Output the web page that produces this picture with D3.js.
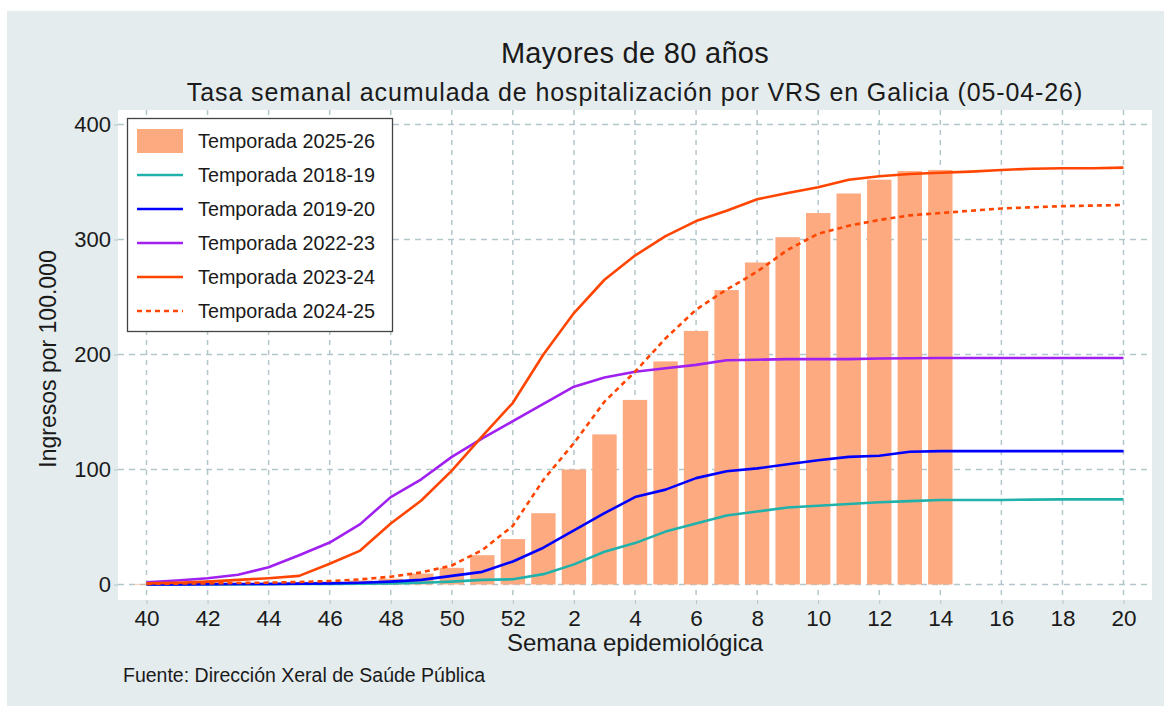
<!DOCTYPE html>
<html><head><meta charset="utf-8">
<script src="https://cdn.jsdelivr.net/npm/d3@7"></script>
<style>body{margin:0;background:#fff;}svg{display:block;font-family:"Liberation Sans",Arial,sans-serif;}</style>
</head><body>
<svg id="c" width="1164" height="706"></svg>
<script>
const weeks = ["40","41","42","43","44","45","46","47","48","49","50","51","52","1","2","3","4","5","6","7","8","9","10","11","12","13","14","15","16","17","18","19","20"];
const tickLabels = ["40","42","44","46","48","50","52","2","4","6","8","10","12","14","16","18","20"];
const yTicks = [0,100,200,300,400];

const t2025_26 = [0.5,0.5,1,1,1.5,2,2.5,3.5,5,9.5,14.5,25.5,39.5,62,100,130.5,160.5,194,220.5,256,280,302,323,340,352,359.5,360.5];
const t2018_19 = [0,0,0,0,0.3,0.5,0.5,0.8,1,1.5,2.5,4,4.5,9,17.5,28.5,36,46,53,60,63.5,67,68.5,70,71.5,72.5,73.5,73.5,73.5,73.8,74,74,74];
const t2019_20 = [0,0,0.3,0.5,0.5,0.8,1,1.5,2.5,4,7.5,11,20,32,47,62,76,82.5,92.5,98.5,101,104.5,108,111,112,115.5,116,116,116,116,116,116,116];
const t2022_23 = [2,3.5,5.5,8.5,15,25.5,36.5,52.5,76,91.5,111,127,142,157,172,180,185,188,191,195,195.5,196,196,196,196.5,196.8,197,197,197,197,197,197,197];
const t2023_24 = [1,1.5,2.5,4,5.5,7.5,18,29.5,53,73,99,129,158,200,236,265,286,303,316,325,335,340.5,345.5,352,355,357,358,359,360.5,361.5,362,362,362.5];
const t2024_25 = [0.5,0.8,1,1.3,1.6,2.2,3,4.5,6.8,10.5,16.5,30,51,91,123,159,185,214,239,256.5,272,291,305,312,317,321,323,325,327,328,329,329.5,330];

const series = [
  {name:"Temporada 2018-19", values:t2018_19, color:"#20b2aa", dash:null},
  {name:"Temporada 2019-20", values:t2019_20, color:"#0000ff", dash:null},
  {name:"Temporada 2022-23", values:t2022_23, color:"#a020f0", dash:null},
  {name:"Temporada 2023-24", values:t2023_24, color:"#ff4500", dash:null},
  {name:"Temporada 2024-25", values:t2024_25, color:"#ff4500", dash:"5,4"}
];
const barColor = "#fdaa80";
const textColor = "#1a1a1a";

const svg = d3.select("#c");
const W = 1164, H = 706;
const plot = {x0:118, x1:1152, y0:110, y1:600};

svg.append("rect").attr("x",7).attr("y",11).attr("width",W-7).attr("height",H-11).attr("fill","#e4ecee");
svg.append("rect").attr("x",plot.x0).attr("y",plot.y0).attr("width",plot.x1-plot.x0).attr("height",plot.y1-plot.y0).attr("fill","#fff");

const x = d3.scalePoint().domain(weeks).range([146.5,1123.5]);
const y = d3.scaleLinear().domain([0,400]).range([584.5,124.5]);
const step = x.step();

// grid
const g = svg.append("g");
g.selectAll("line.vg").data(tickLabels).join("line")
  .attr("x1",d=>x(d)).attr("x2",d=>x(d)).attr("y1",plot.y0).attr("y2",plot.y1)
  .attr("stroke","#b3c6cc").attr("stroke-width",1.5).attr("stroke-dasharray","5,5");
g.selectAll("line.hg").data(yTicks).join("line")
  .attr("x1",plot.x0).attr("x2",plot.x1).attr("y1",d=>y(d)).attr("y2",d=>y(d))
  .attr("stroke","#b3c6cc").attr("stroke-width",1.5).attr("stroke-dasharray","6,5");

// axes
const xAxis = d3.axisBottom(x).tickValues(tickLabels).tickSize(4).tickPadding(6);
const xa = svg.append("g").attr("transform",`translate(0,${plot.y1})`).call(xAxis);
xa.select(".domain").remove();
xa.selectAll(".tick line").attr("stroke","#b3c6cc");
xa.selectAll("text").attr("font-size",22.5).attr("fill",textColor).attr("font-family","Liberation Sans, Arial, sans-serif");

const yAxis = d3.axisLeft(y).tickValues(yTicks).tickSize(4).tickPadding(3);
const ya = svg.append("g").attr("transform",`translate(${plot.x0},0)`).call(yAxis);
ya.select(".domain").remove();
ya.selectAll(".tick line").attr("stroke","#b3c6cc");
ya.selectAll("text").attr("font-size",22).attr("fill",textColor).attr("font-family","Liberation Sans, Arial, sans-serif");

// bars
const bw = step*0.8;
svg.append("g").selectAll("rect").data(t2025_26).join("rect")
  .attr("x",(d,i)=>x(weeks[i])-bw/2).attr("width",bw)
  .attr("y",d=>y(d)).attr("height",d=>y(0)-y(d))
  .attr("fill",barColor);

// lines
const line = d3.line().x((d,i)=>x(weeks[i])).y(d=>y(d));
series.forEach(s=>{
  svg.append("path").datum(s.values).attr("d",line)
    .attr("fill","none").attr("stroke",s.color).attr("stroke-width",2.6)
    .attr("stroke-linejoin","round")
    .attr("stroke-dasharray",s.dash);
});

// titles
svg.append("text").attr("x",635).attr("y",63).attr("text-anchor","middle").attr("font-size",29).attr("letter-spacing",0.3).attr("fill",textColor).text("Mayores de 80 años");
svg.append("text").attr("x",635).attr("y",101).attr("text-anchor","middle").attr("font-size",25).attr("letter-spacing",0.9).attr("fill",textColor).text("Tasa semanal acumulada de hospitalización por VRS en Galicia (05-04-26)");
svg.append("text").attr("x",635).attr("y",651).attr("text-anchor","middle").attr("font-size",24).attr("fill",textColor).text("Semana epidemiológica");
svg.append("text").attr("transform","translate(56,359) rotate(-90)").attr("text-anchor","middle").attr("font-size",23).attr("fill",textColor).text("Ingresos por 100.000");
svg.append("text").attr("x",123).attr("y",682).attr("font-size",19.5).attr("fill",textColor).text("Fuente: Dirección Xeral de Saúde Pública");

// legend
const lg = svg.append("g");
lg.append("rect").attr("x",127.5).attr("y",118.5).attr("width",265).attr("height",213).attr("fill","#fff").attr("stroke","#444").attr("stroke-width",1.3);
const rowY = [141,175,209,243,277,311];
lg.append("rect").attr("x",137).attr("y",rowY[0]-12).attr("width",46).attr("height",24).attr("fill",barColor);
lg.append("text").attr("x",198).attr("y",rowY[0]+7).attr("font-size",19.8).attr("fill",textColor).text("Temporada 2025-26");
series.forEach((s,i)=>{
  const yy = rowY[i+1];
  lg.append("line").attr("x1",137).attr("x2",183).attr("y1",yy).attr("y2",yy)
    .attr("stroke",s.color).attr("stroke-width",2.6).attr("stroke-dasharray",s.dash);
  lg.append("text").attr("x",198).attr("y",yy+7).attr("font-size",19.8).attr("fill",textColor).text(s.name);
});
</script>
</body></html>
